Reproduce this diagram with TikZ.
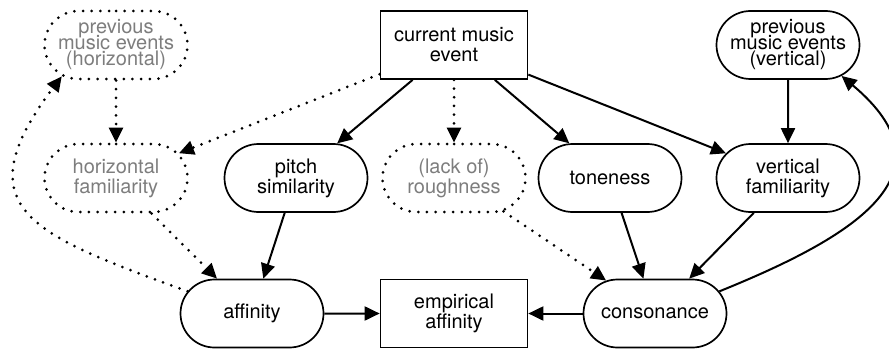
\documentclass[tikz,border=0pt]{standalone}
\usepackage{fontspec}
\setmainfont{TeX Gyre Heros}
\usepackage{tikz}
\usetikzlibrary{arrows.meta, shapes.misc, positioning}
\definecolor{faint}{RGB}{125,125,125}
\newcommand{\tightlines}{\fontsize{20}{16}\selectfont\lineskiplimit -20pt\relax}

\begin{document}
\begin{tikzpicture}[->,>={Triangle[length=15pt,width=14pt]},x=1pt,y=1pt,
                    line width=2pt,node distance=133pt]
\tikzstyle{factor}=[shape=rounded rectangle,draw=black,line width=1.7pt,minimum width=147pt,minimum height=68pt,inner sep=2pt,align=center]
\tikzstyle{event}=[factor,shape=rectangle]
\tikzstyle{latent}=[factor,text=faint,line width=3pt,dash pattern=on 0pt off 8.7pt,line cap=round]
\tikzstyle{dots}=[line width=3pt,dash pattern=on 0pt off 8.7pt,line cap=round]
\tikzstyle{three}=[font=\tightlines]
\tikzset{font=\fontsize{20}{20}\selectfont}

  \useasboundingbox (0,0) rectangle (889,349);

        \node[latent,three]        (prevh)   at (116,304)          {previous\\music events\\(horizontal)};
        \node[event]               (cur)     at (454,304)          {current music\\event};
        \node[factor,three]        (prevv)   at (788,304)          {previous\\music events\\(vertical)};

        \node[latent]              (hfam)    [below of=prevh]      {horizontal\\familiarity};
        \node[factor]              (pitch)   at (296,171)          {pitch\\similarity};
        \node[latent]              (rough)   [below of=cur]        {(lack of)\\roughness};
        \node[factor]              (tone)    at (610,171)          {toneness};
        \node[factor]              (vfam)    [below of=prevv]      {vertical\\familiarity};

        \node[factor]              (aff)     at (252,35.5)         {affinity};
        \node[event, node distance=135.5pt] (emp) [below of=rough] {empirical\\affinity};
        \node[factor]              (cons)    at (655,35.5)         {consonance};

        \path[->]
        (cur)    edge node {}      (pitch)
        (cur)    edge node {}      (tone)
        (cur)    edge node {}      (vfam)
        (prevv)  edge node {}      (vfam)
        (pitch)  edge node {}      (aff)
        (tone)   edge node {}      (cons)
        (vfam)   edge node {}      (cons)
        (aff)    edge node {}      (emp)
        (cons)   edge node {}      (emp)
        (cons.19) edge[out=22,in=-40,looseness=1.55] node {} (prevv.330)
        ; %end path

        \path[->,dots]
        (cur)    edge node {}      (rough)
        (cur)    edge node {}      (hfam)
        (prevh)  edge node {}      (hfam)
        (hfam)   edge node {}      (aff)
        (rough)  edge node {}      (cons)
        (aff.161) edge[out=160,in=233,looseness=1.7] node {} (prevh.210)
        ; %end path

\end{tikzpicture}
\end{document}
